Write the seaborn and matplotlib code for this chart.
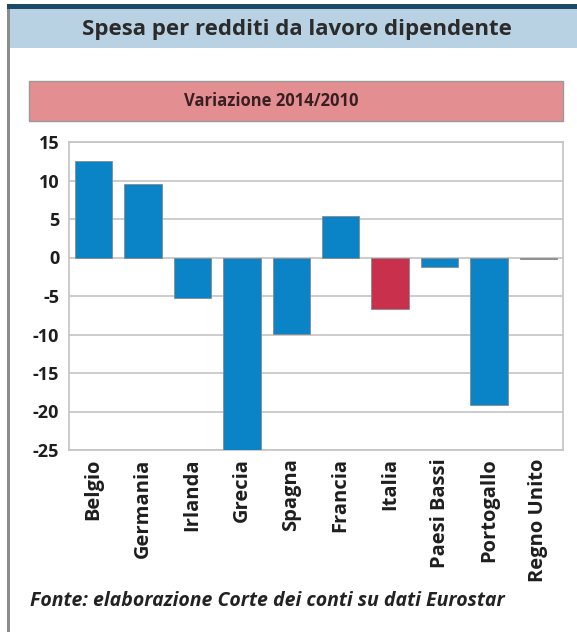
import matplotlib
matplotlib.use("Agg")
import matplotlib.pyplot as plt
import seaborn as sns
from matplotlib.patches import Rectangle

# dati
paesi = ["Belgio", "Germania", "Irlanda", "Grecia", "Spagna",
         "Francia", "Italia", "Paesi Bassi", "Portogallo", "Regno Unito"]
variazione = [12.5, 9.6, -5.2, -25.3, -9.9, 5.4, -6.7, -1.2, -19.1, -0.25]
colori = ["#0a84c6"] * 10
colori[6] = "#c9304b"
colori[9] = "#7a7a7a"

titolo = "Spesa per redditi da lavoro dipendente"
sottotitolo = "Variazione 2014/2010"
fonte = "Fonte: elaborazione Corte dei conti su dati Eurostar"
yticks = [15, 10, 5, 0, -5, -10, -15, -20, -25]

sns.set_style("white")
plt.rcParams["font.family"] = ["Open Sans", "DejaVu Sans"]

W, H = 577, 632
fig = plt.figure(figsize=(W / 100, H / 100), dpi=100)

# cornice e fasce di intestazione (coordinate in pixel della figura)
def px_rect(x0, y0, x1, y1, **kw):
    fig.patches.append(Rectangle((x0 / W, 1 - y1 / H), (x1 - x0) / W, (y1 - y0) / H,
                                 transform=fig.transFigure, **kw))

px_rect(9, 9, 577, 48, facecolor="#b8d2e4", edgecolor="none")
px_rect(7, 4, 577, 9, facecolor="#1d4a68", edgecolor="none")
px_rect(7, 9, 9.5, 632, facecolor="#8c8c8c", edgecolor="none")
px_rect(29, 81, 563, 120.5, facecolor="#e38f92", edgecolor="#9a9a9a", linewidth=1)

fig.text(297 / W, 1 - 30 / H, titolo, ha="center", va="center",
         fontsize=16, fontweight="bold", color="#2b2b2b")
fig.text(271 / W, 1 - 101 / H, sottotitolo, ha="center", va="center",
         fontsize=12, fontweight="bold", color="#3a1f22")
fig.text(30 / W, 1 - 601 / H, fonte, ha="left", va="center",
         fontsize=14, fontweight="bold", fontstyle="italic", color="#222222")

ax = fig.add_axes([69 / W, 1 - 450 / H, 494 / W, 308 / H])
sns.barplot(x=paesi, y=variazione, hue=paesi, palette=colori, legend=False,
            width=0.76, edgecolor="#8a8a8a", linewidth=0.6, saturation=1, ax=ax, zorder=3)

ax.set_ylim(-25, 15)
ax.set_xlim(-0.5, 9.5)
ax.set_yticks(yticks)
ax.set_yticklabels([str(t) for t in yticks])
ax.yaxis.grid(True, color="#c4c4c4", linewidth=1.2, zorder=0)
ax.set_axisbelow(True)
for s in ax.spines.values():
    s.set_color("#c4c4c4")
    s.set_linewidth(1.2)
ax.set_xlabel("")
ax.set_ylabel("")
ax.tick_params(axis="both", length=0)
ax.tick_params(axis="y", pad=7, labelsize=13, labelcolor="#1e1e1e")
ax.tick_params(axis="x", pad=6, labelsize=14.5, labelcolor="#1e1e1e", labelrotation=90)
for lab in ax.get_xticklabels() + ax.get_yticklabels():
    lab.set_fontweight("bold")

fig.savefig("out.png", dpi=100)
